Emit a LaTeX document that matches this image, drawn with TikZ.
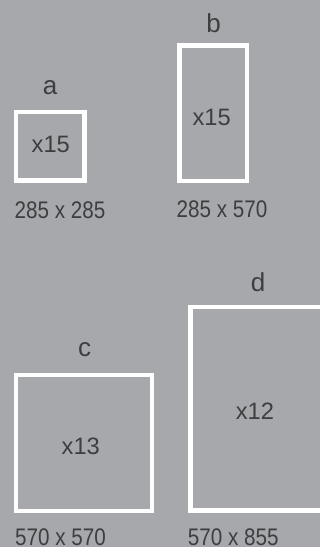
\documentclass[tikz,border=0pt]{standalone}
\usepackage{fontspec}
\setmainfont{Liberation Sans}
\newfontfamily\narrowfont[FakeStretch=0.86]{Liberation Sans}
\definecolor{panelgray}{RGB}{167,168,172}
\definecolor{inkgray}{RGB}{62,62,64}
\tikzset{
	tile/.style={draw=white,line width=4.3pt},
	letter/.style={anchor=base,inner sep=0pt,text=inkgray,font=\fontsize{26}{30}\selectfont},
	count/.style={anchor=base,inner sep=0pt,text=inkgray,font=\fontsize{23.7}{28}\selectfont},
	dims/.style={anchor=base,inner sep=0pt,text=inkgray,font=\narrowfont\fontsize{24}{28}\selectfont}
}
\begin{document}
\begin{tikzpicture}[x=1pt,y=-1pt]
	\fill[panelgray] (0,0) rectangle (320,547);
	\useasboundingbox (0,0) rectangle (320,547);
	\clip (0,0) rectangle (320,547);
	\draw[tile] (16.2,112.2) rectangle (84.5,180.5);
	\draw[tile] (179.5,45.5) rectangle (247.3,181.2);
	\draw[tile] (16.2,375) rectangle (152.2,511);
	\draw[tile] (190.5,307) rectangle (326.5,510.5);
	\node[letter] (la) at (50,94) {a};
	\node[letter] (lb) at (213.5,32.7) {b};
	\node[letter] (lc) at (84.7,356.7) {c};
	\node[letter] (ld) at (258,291.7) {d};
	\node[count] (na) at (50.8,152.3) {x15};
	\node[count] (nb) at (211.7,125) {x15};
	\node[count] (nc) at (80.8,454) {x13};
	\node[count] (nd) at (255,419) {x12};
	\node[dims] (sa) at (60,218) {285 x 285};
	\node[dims] (sb) at (222,217.5) {285 x 570};
	\node[dims] (sc) at (60.5,545.5) {570 x 570};
	\node[dims] (sd) at (233.3,545.5) {570 x 855};
\end{tikzpicture}
\end{document}
